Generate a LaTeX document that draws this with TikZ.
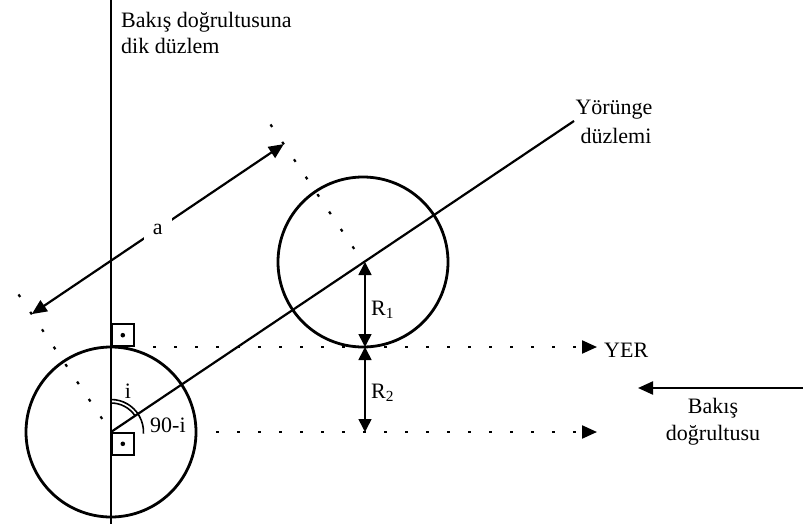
\documentclass[tikz,border=0pt]{standalone}
\usepackage{fontspec}
\setmainfont{Liberation Serif}
\usetikzlibrary{arrows.meta,calc}
\begin{document}
\begin{tikzpicture}[x=1pt,y=-1pt,
  lbl/.style={font=\fontsize{22}{26}\selectfont, inner sep=0pt},
  dotline/.style={line width=2.2pt, dash pattern=on 3pt off 18pt},
  tipA/.style={-{Triangle[length=15pt,width=13pt]}},
  tipB/.style={{Triangle[length=13pt,width=13pt]}-{Triangle[length=13pt,width=13pt]}},
  body/.style={circle, draw, line width=2.8pt, minimum size=170pt, inner sep=0pt},
  rsq/.style={draw, line width=1.6pt, minimum size=22pt, inner sep=0pt},
  thin/.style={line width=1.6pt},
  mid/.style={line width=2.2pt}]
\useasboundingbox (0,0) rectangle (803,524);
% key points
\coordinate (C1) at (111,432);
\coordinate (C2) at (363,262);
\coordinate (vtop) at (111,0);
\coordinate (vbot) at (111,524);
\coordinate (oend) at (574,121);
\coordinate (E1) at (13.3,286.7);
\coordinate (E2) at (265.3,116.7);
\coordinate (T1) at (31.8,314.1);
\coordinate (T2) at (283.8,144.1);
\coordinate (h1s) at (153,347);
\coordinate (h1e) at (597,347);
\coordinate (h2s) at (216,432);
\coordinate (h2e) at (597,432);
\coordinate (Rtop) at (365,262);
\coordinate (Rmid) at (365,347);
\coordinate (Rbot) at (365,432);
\coordinate (bs) at (803,388);
\coordinate (be) at (638,388);
% bodies
\node[body] (big) at (C1) {};
\node[body] (small) at (C2) {};
% plane of sky and orbital plane
\draw[thin] (vtop) -- (vbot);
\draw[mid] (C1) -- (oend);
% right-angle marks
\node[rsq, anchor=south west] (sq1) at (111,347) {};
\fill (sq1.center) circle (2.3pt);
\node[rsq, anchor=north west] (sq2) at (111,432) {};
\fill (sq2.center) circle (2.3pt);
% extension lines
\draw[dotline] ($(C1)!0.09!(E1)$) -- (E1);
\draw[dotline] ($(C2)!0.09!(E2)$) -- (E2);
% dimension a
\draw[mid, {Triangle[length=15pt,width=13pt]}-{Triangle[length=15pt,width=13pt]}] (T1) -- (T2)
  node[midway, fill=white, inner sep=9pt, font=\fontsize{22}{26}\selectfont] (alab) {a};
% horizontal dotted lines
\draw[dotline, tipA] (h1s) -- (h1e);
\draw[dotline, tipA] (h2s) -- (h2e);
\node[lbl, anchor=base west] (yer) at (604,357) {YER};
% R1, R2
\draw[thin, tipB] (Rtop) -- (Rmid);
\draw[thin, tipB] (Rmid) -- (Rbot);
\node[lbl, anchor=base west] (r1) at (371,315) {R\textsubscript{1}};
\node[lbl, anchor=base west] (r2) at (371,398) {R\textsubscript{2}};
% angles
\draw[thin] ([shift={(90:29pt)}]C1) arc[start angle=90, end angle=33.9, radius=29pt];
\draw[thin] ([shift={(90:32.5pt)}]C1) arc[start angle=90, end angle=-3, radius=32.5pt];
\node[lbl, anchor=base] (ilab) at (128,398) {i};
\node[lbl, anchor=base west] (nilab) at (150,432) {90-i};
% line of sight
\draw[mid, tipA] (bs) -- (be);
\node[lbl, anchor=base] (bk1) at (713,413) {Bakış};
\node[lbl, anchor=base] (bk2) at (713,440) {doğrultusu};
% labels
\node[lbl, anchor=base west] (t1) at (121,28) {Bakış doğrultusuna};
\node[lbl, anchor=base west] (t2) at (121,54) {dik düzlem};
\node[lbl, anchor=base] (y1) at (614,115) {Yörünge};
\node[lbl, anchor=base] (y2) at (616,143) {düzlemi};
\end{tikzpicture}
\end{document}
